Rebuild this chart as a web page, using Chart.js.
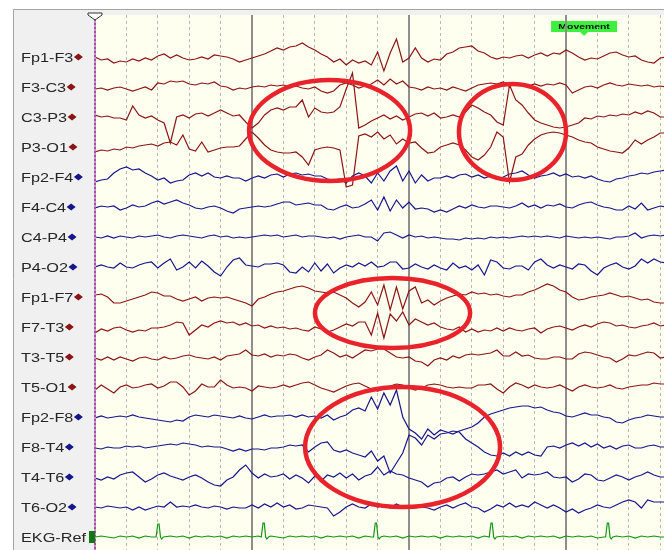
<!DOCTYPE html>
<html>
<head>
<meta charset="utf-8">
<script src="https://cdn.jsdelivr.net/npm/chart.js@4.4.1/dist/chart.umd.min.js"></script>
<style>
    html, body { margin: 0; padding: 0; background: #ffffff; }
    #wrap { width: 664px; height: 550px; }
</style>
</head>
<body>
<div id="wrap"><canvas id="eegChart"></canvas></div>
<script>
// Montage (top to bottom)
const channelNames = ['Fp1-F3', 'F3-C3', 'C3-P3', 'P3-O1', 'Fp2-F4', 'F4-C4', 'C4-P4', 'P4-O2',
    'Fp1-F7', 'F7-T3', 'T3-T5', 'T5-O1', 'Fp2-F8', 'F8-T4', 'T4-T6', 'T6-O2', 'EKG-Ref'];

// Samples every 0.04 s, deflection in px (up = positive)
const fp1F3 = [0,-3,-2,-6,-4,-5,-2,-4,-1,-3,1,3,-1,2,-1,-3,-2,0,-2,2,1,0,-2,-5,-3,-1,1,3,6,9,7,10,11,14,10,7,3,0,-5,-2,-8,-3,-6,-4,-8,5,-14,4,18,-5,-1,9,-1,-5,-2,-3,3,5,9,10,11,6,4,0,-2,0,-1,1,2,-1,2,4,1,4,3,7,4,0,-3,-1,-2,1,4,5,2,0,1,-3,-5,-6,-1,0];
const f3C3 = [-2,-1,-3,-1,0,-2,-4,-2,0,-3,4,3,6,5,6,3,2,4,3,5,1,0,-3,-1,-2,0,1,0,2,1,2,0,1,-1,-2,0,-4,-6,-4,2,4,2,-1,1,3,7,2,8,3,6,0,-1,-3,0,-2,-1,-3,0,-2,-4,-1,2,3,4,3,5,1,3,2,1,3,1,3,2,4,2,-6,-3,0,1,-1,2,4,2,1,3,2,1,2,0,1,0];
const c3P3 = [2,0,1,-1,-1,-3,11,2,-1,1,-3,-6,-26,0,2,-1,3,4,1,4,7,4,1,2,-5,-11,-6,2,7,9,7,10,10,17,0,9,5,4,5,10,28,44,-11,-8,-4,-1,2,-2,1,-3,0,3,4,1,4,-1,0,2,0,5,12,9,5,2,-5,-8,32,17,12,4,-3,-6,-8,-10,-11,-10,-8,-6,-1,-2,1,0,2,1,3,2,5,3,6,4,0,0];
const p3O1 = [-5,-3,-4,-2,-3,0,-1,1,2,3,1,4,5,2,12,-2,-4,5,-5,-3,-1,0,0,1,8,15,9,2,-3,-5,-6,-6,-5,-10,-18,-3,-1,0,-1,-3,-40,-38,11,13,10,15,8,12,3,8,4,5,-1,-6,-5,0,2,4,2,-3,-10,-13,-8,0,15,10,-35,-10,-7,2,8,12,14,15,14,12,10,7,5,4,0,-2,-4,-5,-6,-1,7,3,7,10,14,14];
const fp2F4 = [-5,-3,-2,4,8,10,7,8,4,1,-3,-1,-6,-4,-3,2,4,1,4,0,-1,1,-1,-1,-4,-1,1,-1,2,3,0,3,4,2,3,1,1,-2,-3,-2,-6,1,4,1,-6,4,-4,6,11,-4,6,-6,2,-4,-1,-1,1,-1,2,3,0,2,-1,1,-2,0,3,4,6,2,-1,1,2,4,1,3,0,1,-1,1,-2,-4,-5,-2,-1,1,2,4,3,5,6,7];
const f4C4 = [-1,1,0,1,-3,-1,2,0,1,4,6,3,5,7,4,2,-1,-2,0,1,-1,-4,-6,-2,-1,0,1,0,1,3,5,5,2,3,4,2,2,-2,-3,0,2,-1,0,3,7,-3,10,-4,7,-1,5,-2,-1,-2,-5,-3,-5,-2,1,-1,2,0,-1,1,1,0,-1,1,4,0,2,-1,2,1,3,0,-1,2,4,5,2,0,-1,-3,-3,1,-2,4,-3,-1,1,0];
const c4P4 = [0,-1,1,-1,1,0,-1,1,0,1,2,0,-1,1,2,1,0,-1,1,2,0,1,-1,0,-1,0,1,2,1,2,0,1,2,0,1,1,0,-1,0,-2,0,1,2,0,0,-4,4,5,2,-1,2,0,1,-1,0,-1,-2,-2,-3,-1,-2,-1,-2,0,-1,0,-1,0,1,0,1,0,1,0,-1,1,0,-1,0,-1,0,-1,-2,0,0,1,4,-1,1,2,1,2];
const p4O2 = [0,2,0,-1,4,0,-1,2,4,5,-1,4,8,-3,0,5,-1,6,1,-5,-9,0,7,9,2,1,0,3,3,4,2,-5,-6,0,-5,4,-4,3,-6,-1,2,0,4,1,5,0,1,5,5,-2,-1,3,0,-2,2,-1,-3,4,-1,1,-3,2,-8,7,5,-1,-2,1,1,-3,5,8,2,-1,2,0,-2,3,2,-4,-8,-1,2,4,0,-2,1,8,4,8,5,4];
const fp1F7 = [2,3,0,-6,-6,-4,-2,0,2,5,4,1,1,-2,-4,-2,0,-4,-1,0,-1,0,-2,-4,-6,-9,-2,0,3,5,6,8,10,11,9,6,5,4,5,2,-1,-6,-10,-5,5,-8,12,-13,10,-12,6,10,-6,-3,-8,-4,-1,1,3,2,5,3,4,2,3,1,0,2,2,5,7,10,13,11,7,5,0,-3,-2,0,1,2,4,2,0,1,-1,-3,-2,-5,-6,-6];
const f7T3 = [-6,-2,-4,-1,0,-3,-5,-3,-4,-1,-1,0,2,5,4,-8,-3,2,0,4,6,4,5,2,4,1,2,-1,1,-1,0,-2,-1,-3,-4,0,-2,-5,-3,0,3,1,5,5,-8,14,-11,13,6,15,2,8,5,2,4,0,-2,-3,0,-5,-2,-5,-3,-4,-1,-4,-1,-3,-4,-2,-1,-6,-2,0,1,-1,-3,0,2,0,3,5,4,1,2,0,-1,1,2,4,1,2];
const t3T5 = [-1,-3,0,-3,0,-2,-4,-1,0,-2,-3,0,-2,-1,1,2,0,-1,-2,0,-3,1,2,3,7,2,1,3,0,2,1,3,2,-1,-3,0,2,7,4,0,2,-1,3,7,6,8,8,4,0,-1,0,-4,-5,-9,-3,-1,-3,1,-1,2,3,2,3,4,7,1,1,5,1,2,-1,-2,-2,0,0,-2,-2,3,5,4,2,0,-1,-5,-2,2,1,3,5,4,-1,0];
const t5O1 = [-3,2,-2,-6,0,2,-1,0,2,3,-1,1,5,5,0,-8,-4,3,0,0,7,2,-1,0,-1,-4,1,0,-1,0,2,0,2,4,5,2,-1,-3,-5,-2,1,3,4,1,-2,-4,-2,1,3,2,-1,-3,-1,2,3,2,0,-1,0,-1,-1,2,2,3,-2,-6,0,4,2,-1,2,0,-1,0,2,-1,-4,0,2,0,-1,0,2,-1,-2,0,1,2,2,4,3,3];
const fp2F8 = [-1,1,-1,0,1,0,2,0,-1,-2,-3,-4,-5,-3,-4,0,2,1,0,2,1,0,-1,1,-1,-2,0,2,0,1,1,2,0,2,0,1,-1,2,-3,0,2,7,9,6,20,8,24,12,27,0,-12,-16,-22,-12,-18,-13,-15,-17,-14,-12,-10,-6,0,3,5,7,9,10,11,11,9,10,7,5,4,1,0,2,4,2,2,0,-1,-5,-6,-3,-1,0,2,1,0,0];
const f8T4 = [-1,-2,0,-1,-1,1,0,1,-1,0,1,2,3,2,4,3,2,0,1,0,0,-2,-4,-2,-4,-2,-2,-3,-1,-1,0,2,1,2,-5,0,4,5,-3,-5,-3,-6,-8,-10,-4,-14,-9,-26,-16,-6,12,9,2,12,8,13,14,16,15,8,4,0,-5,-8,-9,-6,-9,-5,-8,-5,-8,-9,0,1,-1,2,4,1,4,0,3,-1,1,-2,1,2,-1,-1,1,2,0,0];
const t4T6 = [-1,-3,0,-2,2,4,5,0,-5,-2,2,4,1,-1,-3,0,2,-1,-5,-8,-9,-3,0,7,12,4,-1,3,0,1,3,-2,2,-1,-6,1,-4,2,0,4,-1,3,-3,1,3,10,2,6,3,2,-1,-3,-5,-10,-6,-5,-1,0,-4,0,3,2,3,5,7,3,5,7,-1,3,2,3,5,0,-1,0,-5,-2,3,2,-3,-4,-1,2,0,-3,0,2,5,2,0,0];
const t6O2 = [0,-1,1,0,-1,0,-3,0,-3,-1,1,0,5,0,1,0,2,0,-1,1,0,-2,0,-1,-1,2,-1,3,0,4,0,2,-2,-1,2,1,0,-1,-9,-5,0,3,0,-1,3,0,2,-1,3,0,-1,-1,0,-1,-3,0,2,-1,2,4,0,-1,-5,-2,2,0,4,0,2,0,5,2,-1,2,-1,-5,-2,-6,-3,-1,2,0,-1,2,5,7,5,-1,7,5,5,5];

// EKG is read point by point (QRS spikes are narrower than the EEG sample step)
const ekgTimes = [0,0.04,0.08,0.12,0.16,0.2,0.24,0.28,0.32,0.36,0.389,0.4,0.408,0.417,0.425,0.435,0.48,0.52,0.56,0.6,0.64,0.68,0.72,0.76,0.8,0.84,0.88,0.92,0.96,1.0,1.04,1.059,1.07,1.078,1.087,1.095,1.105,1.12,1.16,1.2,1.24,1.28,1.32,1.36,1.4,1.44,1.48,1.52,1.56,1.6,1.64,1.68,1.72,1.76,1.774,1.785,1.793,1.802,1.81,1.82,1.84,1.88,1.92,1.96,2.0,2.04,2.08,2.12,2.16,2.2,2.24,2.28,2.32,2.36,2.4,2.44,2.48,2.511,2.522,2.53,2.539,2.547,2.557,2.6,2.64,2.68,2.72,2.76,2.8,2.84,2.88,2.92,2.96,3.0,3.04,3.08,3.12,3.16,3.2,3.24,3.252,3.263,3.271,3.28,3.288,3.298,3.32,3.36,3.4,3.44,3.48,3.52,3.56,3.6,3.64];
const ekgValues = [0,1,0,-1,1,0,1,-1,1,0,0,13,13,0,-2,0,1,0,1,-1,1,0,1,0,1,-1,1,0,1,0,1,0,14,14,0,-2,0,1,0,-1,1,0,1,0,1,-1,1,0,1,0,1,-1,1,0,0,14,14,0,-2,0,1,0,1,-1,1,0,1,0,1,-1,1,0,1,0,1,-1,1,0,14,14,0,-2,0,1,0,1,-1,1,0,1,0,1,-1,1,0,1,0,1,-1,0,0,14,14,0,-2,0,1,0,1,-1,1,0,1,0,0];

// Annotations (time in s, offset in px units)
const circledEvents = [
    { t: 1.494, y: 73.5, rt: 0.513, ry: 50.5 },
    { t: 2.659, y: 75, rt: 0.341, ry: 48 },
    { t: 1.895, y: 256, rt: 0.494, ry: 35 },
    { t: 1.959, y: 390, rt: 0.621, ry: 60 }
];
const movementMark = { t: 3.115, text: 'Movement' };

const sampleStep = 0.04;
const channelGap = 30;
const timeMax = 3.624;
const gridTimes = Array.from({ length: 19 }, (_, k) => +(k * 0.2).toFixed(1));

const RED = '#8b1414';
const BLUE = '#16168c';
const GREEN = '#129612';
const traceColors = [RED, RED, RED, RED, BLUE, BLUE, BLUE, BLUE, RED, RED, RED, RED, BLUE, BLUE, BLUE, BLUE, GREEN];

const isSecond = v => Math.abs(v - Math.round(v)) < 1e-6;

// Panel, label column and markers
const montagePlugin = {
    id: 'montage',
    beforeDraw(chart) {
        const { ctx, chartArea: a, scales: { x } } = chart;
        ctx.save();
        ctx.fillStyle = '#ffffff';
        ctx.fillRect(0, 0, chart.width, chart.height);
        ctx.fillStyle = '#f0f0f0';
        ctx.fillRect(14, 10, chart.width - 14, a.top - 10);
        ctx.fillRect(14, 10, a.left - 14, chart.height - 10);
        ctx.fillStyle = '#fffff0';
        ctx.fillRect(a.left, a.top, a.right - a.left, a.bottom - a.top);
        ctx.strokeStyle = '#a4a4a4';
        ctx.lineWidth = 1;
        ctx.beginPath();
        ctx.moveTo(13.5, chart.height);
        ctx.lineTo(13.5, 9.5);
        ctx.lineTo(chart.width, 9.5);
        ctx.stroke();

        // event tag
        const mx = x.getPixelForValue(movementMark.t);
        const top = a.top + 6;
        ctx.fillStyle = '#3df03d';
        ctx.fillRect(mx - 33, top, 66, 11);
        ctx.beginPath();
        ctx.moveTo(mx - 4, top + 11);
        ctx.lineTo(mx + 4, top + 11);
        ctx.lineTo(mx, top + 15);
        ctx.closePath();
        ctx.fill();
        ctx.font = 'bold 8px "Liberation Sans", Arial, sans-serif';
        ctx.fillStyle = '#111111';
        ctx.textAlign = 'center';
        ctx.textBaseline = 'middle';
        ctx.translate(mx, top + 6);
        ctx.scale(1.3, 1);
        ctx.fillText(movementMark.text, 0, 0);
        ctx.restore();
    },
    afterDatasetsDraw(chart) {
        const { ctx, chartArea: a, scales: { x, y } } = chart;
        ctx.save();

        // circled events
        ctx.strokeStyle = '#e8232b';
        ctx.lineWidth = 4.5;
        circledEvents.forEach(e => {
            const cx = x.getPixelForValue(e.t);
            const cy = y.getPixelForValue(e.y);
            const rx = Math.abs(x.getPixelForValue(e.t + e.rt) - cx);
            const ry = Math.abs(y.getPixelForValue(e.y + e.ry) - cy);
            ctx.beginPath();
            ctx.ellipse(cx, cy, rx, ry, 0, 0, Math.PI * 2);
            ctx.stroke();
        });

        // start cursor
        ctx.lineWidth = 2;
        ctx.strokeStyle = '#a8a8a8';
        ctx.beginPath();
        ctx.moveTo(a.left, a.top);
        ctx.lineTo(a.left, a.bottom);
        ctx.stroke();
        ctx.setLineDash([2, 2]);
        ctx.strokeStyle = '#c23cc2';
        ctx.stroke();
        ctx.setLineDash([]);
        ctx.lineWidth = 1;
        ctx.fillStyle = '#ffffff';
        ctx.strokeStyle = '#333333';
        ctx.beginPath();
        ctx.moveTo(a.left - 7, a.top - 2);
        ctx.lineTo(a.left + 7, a.top - 2);
        ctx.lineTo(a.left + 7, a.top);
        ctx.lineTo(a.left, a.top + 5);
        ctx.lineTo(a.left - 7, a.top);
        ctx.closePath();
        ctx.fill();
        ctx.stroke();

        // channel labels
        ctx.font = '12.5px "Liberation Sans", Arial, sans-serif';
        ctx.textAlign = 'left';
        ctx.textBaseline = 'alphabetic';
        channelNames.forEach((name, i) => {
            const cy = y.getPixelForValue(i * channelGap);
            const w = ctx.measureText(name).width * 1.3;
            ctx.save();
            ctx.translate(21, cy + 4.5);
            ctx.scale(1.3, 1);
            ctx.fillStyle = '#262626';
            ctx.fillText(name, 0, 0);
            ctx.restore();
            ctx.fillStyle = traceColors[i];
            if (i < channelNames.length - 1) {
                const dx = 21 + w + 5;
                ctx.beginPath();
                ctx.moveTo(dx - 4.5, cy);
                ctx.lineTo(dx, cy - 3.5);
                ctx.lineTo(dx + 4.5, cy);
                ctx.lineTo(dx, cy + 3.5);
                ctx.closePath();
                ctx.fill();
            } else {
                ctx.fillStyle = '#0a7a0a';
                ctx.fillRect(a.left - 6, cy - 6, 6, 12);
            }
        });
        ctx.restore();
    }
};

function buildDatasets() {
    const series = [fp1F3, f3C3, c3P3, p3O1, fp2F4, f4C4, c4P4, p4O2,
        fp1F7, f7T3, t3T5, t5O1, fp2F8, f8T4, t4T6, t6O2];
    const sets = series.map((vals, i) => ({
        label: channelNames[i],
        data: vals.map((v, j) => ({ x: j * sampleStep, y: i * channelGap - v })),
        borderColor: traceColors[i]
    }));
    const ekgRow = series.length * channelGap;
    sets.push({
        label: 'EKG-Ref',
        data: ekgTimes.map((t, k) => ({ x: t, y: ekgRow - ekgValues[k] })),
        borderColor: traceColors[series.length]
    });
    return sets.map(s => Object.assign(s, {
        borderWidth: 1.2,
        pointRadius: 0,
        tension: 0,
        fill: false
    }));
}

function initEegChart() {
    return new Chart(document.getElementById('eegChart'), {
        type: 'line',
        data: { datasets: buildDatasets() },
        options: {
            responsive: true,
            maintainAspectRatio: false,
            animation: false,
            events: [],
            layout: { padding: { left: 95, top: 15, right: 0, bottom: 0 } },
            scales: {
                x: {
                    type: 'linear',
                    min: 0,
                    max: timeMax,
                    afterBuildTicks: scale => {
                        scale.ticks = gridTimes.map(v => ({ value: v }));
                    },
                    ticks: { display: false },
                    grid: {
                        drawTicks: false,
                        color: c => {
                            if (!c.tick || c.tick.value === 0) return 'rgba(0,0,0,0)';
                            return isSecond(c.tick.value) ? '#8e8e8e' : '#b9b9b9';
                        },
                        lineWidth: c => (c.tick && isSecond(c.tick.value) ? 2 : 1)
                    },
                    border: {
                        display: false,
                        dash: c => (c.tick && isSecond(c.tick.value) ? [] : [3, 3])
                    }
                },
                y: {
                    type: 'linear',
                    display: false,
                    reverse: true,
                    min: -42,
                    max: 493
                }
            },
            plugins: {
                legend: { display: false },
                tooltip: { enabled: false }
            }
        },
        plugins: [montagePlugin]
    });
}

document.addEventListener('DOMContentLoaded', function() {
    initEegChart();
});
</script>
</body>
</html>
